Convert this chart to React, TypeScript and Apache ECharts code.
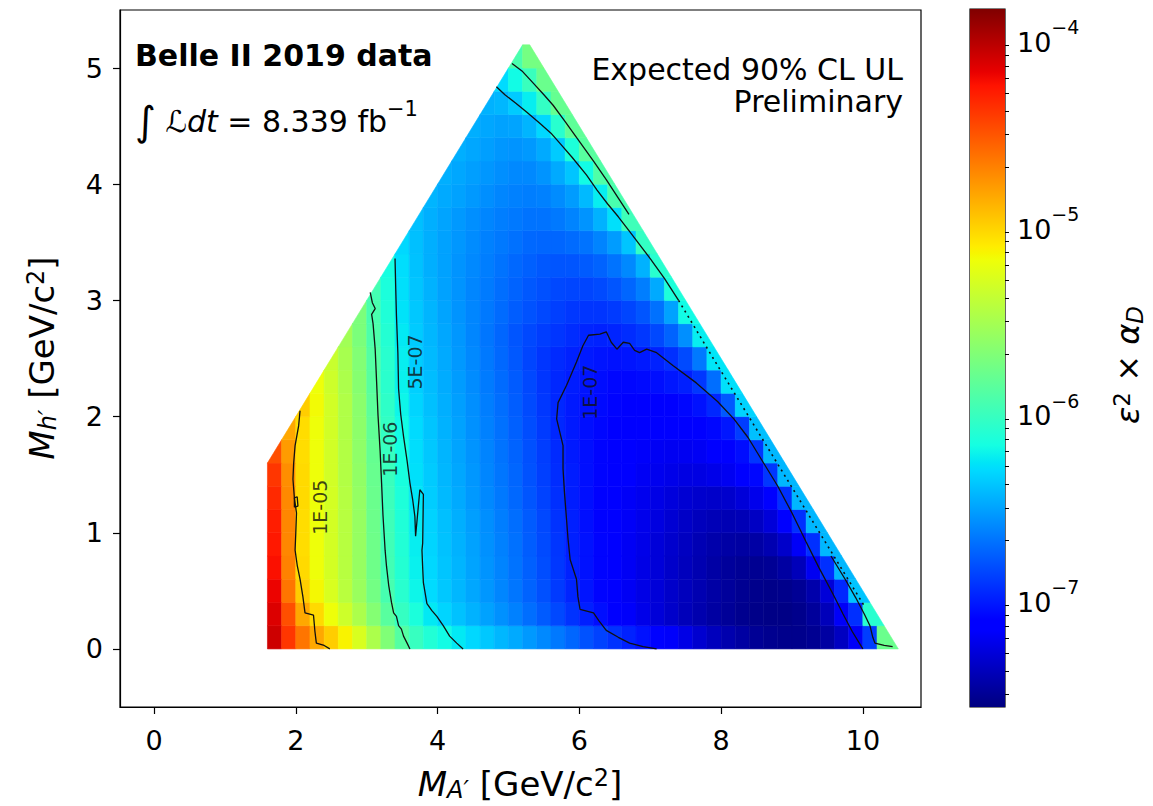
import React, { useEffect, useRef } from "react";
import * as echarts from "echarts";

const FONT = "DejaVu Sans";

// Axes
const X_TICKS = [0, 2, 4, 6, 8, 10];
const Y_TICKS = [0, 1, 2, 3, 4, 5];
const CB_TICKS = [-7, -6, -5, -4]; // log10 of epsilon^2 x alpha_D
const X_MIN = -0.48;
const X_MAX = 10.82;
const Y_MIN = -0.5;
const Y_MAX = 5.5;
const CB_MIN = -7.59;
const CB_MAX = -3.85;
const HALF_CELL = 0.1;
const CELL_STEP = 0.2;
// kinematic boundary of the scanned region: M_h' <= M_A', M_A' + M_h' <= EDGE_SUM
const EDGE_SUM = 10.5;

// Heat map: log10(expected UL) per row (row centre y, first cell centre x, values every 0.2 GeV)
const ROW_Y = [0.1, 0.3, 0.5, 0.7, 0.9, 1.1, 1.3, 1.5, 1.7, 1.9, 2.1, 2.3, 2.5, 2.7, 2.9, 3.1, 3.3, 3.5, 3.7, 3.9, 4.1, 4.3, 4.5, 4.7, 4.9, 5.1];
const ROW_X0 = [1.7, 1.7, 1.7, 1.7, 1.7, 1.7, 1.7, 1.7, 1.7, 1.9, 2.1, 2.3, 2.5, 2.7, 2.9, 3.1, 3.3, 3.5, 3.7, 3.9, 4.1, 4.3, 4.5, 4.7, 4.9, 5.1];
const LOG_UL_ROWS: number[][] = [
  [-4.1, -4.4, -4.65, -4.85, -5.0, -5.15, -5.3, -5.5, -5.7, -5.9, -6.03, -6.13, -6.2, -6.27, -6.33, -6.39, -6.45, -6.5, -6.56, -6.62, -6.68, -6.75, -6.82, -6.88, -6.94, -7.0, -7.06, -7.12, -7.19, -7.26, -7.33, -7.39, -7.44, -7.48, -7.52, -7.54, -7.55, -7.55, -7.53, -7.48, -7.38, -7.2, -6.9, -5.8],
  [-4.15, -4.5, -4.85, -5.05, -5.2, -5.35, -5.5, -5.68, -5.88, -6.04, -6.16, -6.27, -6.34, -6.41, -6.47, -6.53, -6.59, -6.65, -6.72, -6.79, -6.86, -6.94, -7.01, -7.07, -7.13, -7.19, -7.25, -7.3, -7.35, -7.4, -7.44, -7.48, -7.51, -7.54, -7.56, -7.57, -7.57, -7.55, -7.5, -7.4, -7.2, -6.95, -6.1],
  [-4.2, -4.65, -5.0, -5.17, -5.3, -5.44, -5.58, -5.76, -5.96, -6.1, -6.22, -6.32, -6.39, -6.45, -6.51, -6.57, -6.63, -6.69, -6.76, -6.83, -6.91, -6.99, -7.05, -7.11, -7.16, -7.21, -7.26, -7.3, -7.35, -7.39, -7.43, -7.47, -7.5, -7.53, -7.55, -7.56, -7.55, -7.52, -7.45, -7.3, -6.98, -6.4],
  [-4.25, -4.7, -5.05, -5.2, -5.32, -5.45, -5.6, -5.78, -5.98, -6.12, -6.24, -6.33, -6.4, -6.46, -6.52, -6.58, -6.64, -6.7, -6.77, -6.84, -6.92, -7.0, -7.06, -7.11, -7.16, -7.21, -7.26, -7.3, -7.35, -7.39, -7.43, -7.47, -7.5, -7.52, -7.53, -7.52, -7.48, -7.4, -7.22, -6.95, -6.45],
  [-4.28, -4.72, -5.06, -5.2, -5.32, -5.45, -5.6, -5.78, -5.99, -6.13, -6.25, -6.34, -6.41, -6.47, -6.53, -6.59, -6.65, -6.71, -6.78, -6.85, -6.93, -7.01, -7.06, -7.11, -7.16, -7.21, -7.25, -7.3, -7.34, -7.38, -7.42, -7.45, -7.47, -7.48, -7.47, -7.43, -7.35, -7.2, -6.95, -6.45],
  [-4.3, -4.72, -5.06, -5.2, -5.32, -5.45, -5.6, -5.79, -6.0, -6.14, -6.26, -6.35, -6.42, -6.48, -6.54, -6.6, -6.66, -6.72, -6.79, -6.86, -6.94, -7.01, -7.07, -7.12, -7.16, -7.2, -7.24, -7.28, -7.32, -7.36, -7.39, -7.41, -7.42, -7.41, -7.37, -7.3, -7.18, -6.95, -6.45],
  [-4.35, -4.73, -5.05, -5.2, -5.32, -5.46, -5.61, -5.8, -6.01, -6.15, -6.28, -6.37, -6.44, -6.5, -6.56, -6.62, -6.68, -6.74, -6.81, -6.88, -6.95, -7.02, -7.07, -7.12, -7.16, -7.2, -7.23, -7.26, -7.29, -7.32, -7.34, -7.35, -7.34, -7.3, -7.24, -7.14, -6.95, -6.45],
  [-4.4, -4.75, -5.05, -5.2, -5.33, -5.47, -5.62, -5.81, -6.02, -6.17, -6.3, -6.38, -6.45, -6.51, -6.57, -6.63, -6.69, -6.75, -6.82, -6.89, -6.96, -7.02, -7.07, -7.11, -7.15, -7.18, -7.21, -7.23, -7.25, -7.27, -7.27, -7.25, -7.22, -7.18, -7.1, -6.92, -6.45],
  [-4.5, -4.8, -5.06, -5.2, -5.33, -5.47, -5.63, -5.82, -6.03, -6.18, -6.31, -6.39, -6.46, -6.52, -6.58, -6.64, -6.7, -6.76, -6.83, -6.9, -6.97, -7.03, -7.07, -7.11, -7.14, -7.17, -7.19, -7.21, -7.22, -7.22, -7.21, -7.18, -7.14, -7.08, -6.93, -6.45],
  [-4.85, -5.06, -5.2, -5.33, -5.48, -5.64, -5.84, -6.05, -6.2, -6.32, -6.4, -6.47, -6.53, -6.59, -6.65, -6.71, -6.77, -6.84, -6.91, -6.98, -7.03, -7.07, -7.1, -7.13, -7.15, -7.17, -7.18, -7.18, -7.17, -7.14, -7.1, -7.04, -6.9, -6.42],
  [-5.0, -5.18, -5.33, -5.48, -5.65, -5.86, -6.07, -6.22, -6.34, -6.42, -6.48, -6.54, -6.6, -6.66, -6.72, -6.78, -6.85, -6.92, -6.98, -7.03, -7.06, -7.09, -7.11, -7.13, -7.14, -7.14, -7.13, -7.1, -7.06, -6.98, -6.8, -6.35],
  [-5.2, -5.35, -5.5, -5.67, -5.88, -6.09, -6.24, -6.36, -6.43, -6.49, -6.55, -6.61, -6.67, -6.73, -6.79, -6.86, -6.93, -6.98, -7.02, -7.05, -7.08, -7.1, -7.1, -7.09, -7.07, -7.04, -7.01, -6.92, -6.72, -6.3],
  [-5.37, -5.52, -5.69, -5.9, -6.1, -6.25, -6.37, -6.44, -6.5, -6.56, -6.62, -6.68, -6.74, -6.8, -6.87, -6.93, -6.97, -7.0, -7.03, -7.05, -7.06, -7.05, -7.03, -7.0, -6.95, -6.85, -6.68, -6.28],
  [-5.55, -5.72, -5.93, -6.12, -6.27, -6.38, -6.45, -6.51, -6.57, -6.63, -6.69, -6.75, -6.81, -6.86, -6.9, -6.93, -6.96, -6.99, -7.0, -6.99, -6.96, -6.92, -6.86, -6.76, -6.6, -6.25],
  [-5.72, -5.95, -6.14, -6.29, -6.39, -6.46, -6.52, -6.58, -6.63, -6.68, -6.73, -6.78, -6.82, -6.86, -6.89, -6.92, -6.93, -6.93, -6.91, -6.87, -6.81, -6.71, -6.53, -6.2],
  [-5.97, -6.16, -6.3, -6.4, -6.47, -6.53, -6.58, -6.63, -6.67, -6.72, -6.76, -6.8, -6.83, -6.86, -6.87, -6.87, -6.85, -6.81, -6.75, -6.66, -6.5, -6.15],
  [-6.18, -6.31, -6.41, -6.48, -6.53, -6.58, -6.62, -6.66, -6.7, -6.74, -6.77, -6.8, -6.81, -6.81, -6.79, -6.76, -6.7, -6.62, -6.47, -6.1],
  [-6.33, -6.42, -6.48, -6.53, -6.57, -6.61, -6.65, -6.68, -6.71, -6.74, -6.75, -6.75, -6.73, -6.7, -6.64, -6.55, -6.4, -6.05],
  [-6.42, -6.48, -6.52, -6.56, -6.6, -6.63, -6.66, -6.68, -6.7, -6.7, -6.68, -6.64, -6.58, -6.47, -6.3, -6.0],
  [-6.46, -6.5, -6.53, -6.56, -6.6, -6.63, -6.65, -6.66, -6.65, -6.61, -6.55, -6.44, -6.25, -5.95],
  [-6.48, -6.51, -6.54, -6.57, -6.6, -6.62, -6.62, -6.58, -6.5, -6.4, -6.2, -5.92],
  [-6.48, -6.51, -6.54, -6.57, -6.58, -6.56, -6.5, -6.38, -6.15, -5.88],
  [-6.48, -6.51, -6.53, -6.52, -6.46, -6.33, -6.1, -5.85],
  [-6.47, -6.45, -6.38, -6.25, -6.05, -5.82],
  [-6.32, -6.2, -6.02, -5.8],
  [-5.95, -5.75],
];

// Contour lines, [M_A', M_h']
const CONTOUR_1E5 = [[2.06, 2.05], [2.04, 1.92], [1.99, 1.75], [1.97, 1.6], [1.96, 1.46], [1.98, 1.3], [2.01, 1.17], [2.0, 1.0], [1.99, 0.85], [2.02, 0.72], [2.06, 0.6], [2.1, 0.45], [2.13, 0.31], [2.25, 0.29], [2.27, 0.15], [2.29, 0.05], [2.4, 0.03], [2.48, 0.0]];
const CONTOUR_1E5_BLOB = [[1.98, 1.22], [1.98, 1.3], [2.02, 1.31], [2.03, 1.23], [1.98, 1.22]];
const CONTOUR_1E6 = [[3.05, 3.07], [3.08, 2.98], [3.12, 2.93], [3.07, 2.88], [3.09, 2.8], [3.12, 2.58], [3.14, 2.3], [3.16, 2.01], [3.19, 1.7], [3.21, 1.43], [3.23, 1.15], [3.26, 0.85], [3.28, 0.71], [3.31, 0.55], [3.35, 0.4], [3.38, 0.31], [3.42, 0.28], [3.45, 0.2], [3.49, 0.17], [3.52, 0.11], [3.57, 0.05], [3.61, 0.0]];
const CONTOUR_5E7 = [[3.4, 3.36], [3.41, 3.1], [3.42, 2.87], [3.44, 2.55], [3.45, 2.24], [3.48, 2.02], [3.52, 1.83], [3.57, 1.62], [3.61, 1.43], [3.65, 1.28], [3.68, 1.14], [3.69, 0.97], [3.75, 1.37], [3.8, 1.33], [3.79, 0.91], [3.78, 0.85], [3.79, 0.7], [3.8, 0.57], [3.85, 0.39], [3.92, 0.33], [3.99, 0.28], [4.08, 0.2], [4.17, 0.11], [4.27, 0.05], [4.36, 0.0]];
const CONTOUR_1E7 = [[7.09, 0.0], [6.9, 0.02], [6.71, 0.05], [6.55, 0.1], [6.38, 0.16], [6.28, 0.24], [6.2, 0.31], [6.01, 0.34], [5.98, 0.45], [5.96, 0.6], [5.87, 0.77], [5.84, 0.95], [5.82, 1.11], [5.79, 1.35], [5.77, 1.55], [5.77, 1.75], [5.68, 1.98], [5.7, 2.12], [5.82, 2.27], [5.96, 2.47], [6.05, 2.61], [6.13, 2.7], [6.29, 2.71], [6.38, 2.73], [6.45, 2.64], [6.53, 2.58], [6.62, 2.64], [6.71, 2.63], [6.78, 2.57], [6.85, 2.55], [6.95, 2.58], [7.09, 2.55], [7.32, 2.44], [7.65, 2.29], [7.95, 2.13], [8.18, 1.98], [8.38, 1.82], [8.58, 1.62], [8.8, 1.4], [9.0, 1.17], [9.2, 0.92], [9.38, 0.7], [9.58, 0.47], [9.72, 0.3], [9.85, 0.15], [9.95, 0.05], [10.0, 0.0]];
const CONTOUR_1E6_TOP = [[5.05, 5.04], [5.2, 4.97], [5.35, 4.87], [5.5, 4.77], [5.63, 4.68], [5.8, 4.54], [6.0, 4.37], [6.2, 4.2], [6.38, 4.04], [6.55, 3.88], [6.7, 3.74]];
const CONTOUR_5E7_TOP = [[4.83, 4.84], [4.95, 4.77], [5.1, 4.7], [5.26, 4.62], [5.45, 4.52], [5.6, 4.44], [5.73, 4.35], [5.9, 4.23], [6.1, 4.08], [6.25, 3.95], [6.4, 3.83], [6.55, 3.72], [6.7, 3.6], [6.85, 3.48], [7.0, 3.36], [7.2, 3.19], [7.4, 3.0]];
const CONTOUR_EDGE = [[7.4, 3.0], [7.9, 2.49], [8.4, 1.99], [8.9, 1.49], [9.4, 0.99], [9.8, 0.59], [10.02, 0.37]];
const CONTOUR_CORNER = [[9.55, 0.8], [9.75, 0.6], [9.9, 0.44], [10.02, 0.3], [10.1, 0.2], [10.14, 0.1], [10.17, 0.05], [10.3, 0.03], [10.42, 0.02]];

const CONTOUR_LABEL_X = [2.34, 3.33, 3.68, 6.15];
const CONTOUR_LABEL_Y = [1.22, 1.72, 2.47, 2.21];
const CONTOUR_LABEL_TEXT = ["1E-05", "1E-06", "5E-07", "1E-07"];

// matplotlib "jet" colormap
const JET_R = [[0, 0], [0.35, 0], [0.66, 1], [0.89, 1], [1, 0.5]];
const JET_G = [[0, 0], [0.125, 0], [0.375, 1], [0.64, 1], [0.91, 0], [1, 0]];
const JET_B = [[0, 0.5], [0.11, 1], [0.34, 1], [0.65, 0], [1, 0]];
const JET_BREAKS = [0, 0.11, 0.125, 0.34, 0.35, 0.375, 0.64, 0.65, 0.66, 0.89, 0.91, 1];

function seg(pts: number[][], t: number) {
  for (let i = 1; i < pts.length; i++) {
    if (t <= pts[i][0]) {
      const [t0, v0] = pts[i - 1];
      const [t1, v1] = pts[i];
      return v0 + ((t - t0) / (t1 - t0)) * (v1 - v0);
    }
  }
  return pts[pts.length - 1][1];
}
function jet(t: number) {
  const tt = Math.max(0, Math.min(1, t));
  const r = Math.round(seg(JET_R, tt) * 255);
  const g = Math.round(seg(JET_G, tt) * 255);
  const b = Math.round(seg(JET_B, tt) * 255);
  return `rgb(${r},${g},${b})`;
}
function colorOf(L: number) {
  return jet((L - CB_MIN) / (CB_MAX - CB_MIN));
}

// keep the part of a polygon where f(p) >= 0
function clipPoly(pts: number[][], f: (p: number[]) => number) {
  const out: number[][] = [];
  for (let i = 0; i < pts.length; i++) {
    const a = pts[i];
    const b = pts[(i + 1) % pts.length];
    const fa = f(a);
    const fb = f(b);
    if (fa >= 0) out.push(a);
    if (fa >= 0 !== fb >= 0) {
      const t = fa / (fa - fb);
      out.push([a[0] + t * (b[0] - a[0]), a[1] + t * (b[1] - a[1])]);
    }
  }
  return out;
}

const CB_MINOR: number[] = [];
[-8, -7, -6, -5, -4].forEach((n) => {
  [2, 3, 4, 5, 6, 7, 8, 9].forEach((k) => {
    const v = n + Math.log10(k);
    if (v > CB_MIN && v < CB_MAX) CB_MINOR.push(v);
  });
});

export default function App() {
  const ref = useRef<HTMLDivElement>(null);
  useEffect(() => {
    if (!ref.current) return;
    const chart = echarts.init(ref.current, undefined, { renderer: "svg" });

    const cells: number[][] = [];
    ROW_Y.forEach((y, r) => {
      const row = LOG_UL_ROWS[r];
      row.forEach((v, i) => {
        cells.push([+(ROW_X0[r] + i * CELL_STEP).toFixed(2), y, v, i === row.length - 1 ? 1 : 0]);
      });
    });

    const lineSeries = (data: number[][], dashed = false) => ({
      type: "line",
      xAxisIndex: 0,
      yAxisIndex: 0,
      data,
      showSymbol: false,
      symbol: "none",
      silent: true,
      z: 5,
      lineStyle: { color: "#111", width: dashed ? 1.6 : 1.3, type: dashed ? [2, 4] : "solid" },
    });

    const tickLabel = { fontFamily: FONT, fontSize: 27, color: "#000" };
    const titleRich = {
      i: { fontFamily: FONT, fontSize: 34, fontStyle: "italic", fill: "#000", lineHeight: 36, verticalAlign: "middle" },
      n: { fontFamily: FONT, fontSize: 34, fill: "#000", lineHeight: 36, verticalAlign: "middle" },
      sub: { fontFamily: FONT, fontSize: 24, fontStyle: "italic", fill: "#000", lineHeight: 24, verticalAlign: "bottom" },
      sup: { fontFamily: FONT, fontSize: 24, fill: "#000", lineHeight: 24, verticalAlign: "top" },
    };

    const option: any = {
      animation: false,
      backgroundColor: "#fff",
      grid: [
        { left: 120, top: 10, width: 801, height: 697, show: true, borderColor: "#000", borderWidth: 1.2, backgroundColor: "transparent" },
        { left: 970, top: 9, width: 35, height: 698, show: true, borderColor: "#000", borderWidth: 1.2, backgroundColor: "transparent" },
      ],
      xAxis: [
        {
          gridIndex: 0, type: "value", min: X_MIN, max: X_MAX,
          axisLine: { show: true, onZero: false, lineStyle: { color: "#000", width: 1.2 } },
          axisTick: { show: true, customValues: X_TICKS, length: 7, lineStyle: { color: "#000", width: 1.2 } },
          axisLabel: { ...tickLabel, customValues: X_TICKS, margin: 20 },
          splitLine: { show: false },
        },
        { gridIndex: 1, type: "value", min: 0, max: 1, show: false },
      ],
      yAxis: [
        {
          gridIndex: 0, type: "value", min: Y_MIN, max: Y_MAX,
          axisLine: { show: true, onZero: false, lineStyle: { color: "#000", width: 1.2 } },
          axisTick: { show: true, customValues: Y_TICKS, length: 7, lineStyle: { color: "#000", width: 1.2 } },
          axisLabel: { ...tickLabel, customValues: Y_TICKS, margin: 17 },
          splitLine: { show: false },
        },
        {
          gridIndex: 1, type: "value", min: CB_MIN, max: CB_MAX, position: "right",
          axisLine: { show: false },
          axisTick: { show: true, customValues: CB_TICKS, length: 7, lineStyle: { color: "#000", width: 1.2 } },
          axisLabel: {
            customValues: CB_TICKS,
            margin: 12,
            formatter: (v: number) => `{b|10}{s|\u2212${Math.abs(Math.round(v))}}`,
            rich: {
              b: { fontFamily: FONT, fontSize: 27, color: "#000", lineHeight: 38, verticalAlign: "bottom" },
              s: { fontFamily: FONT, fontSize: 19, color: "#000", lineHeight: 20, verticalAlign: "top" },
            },
          },
          splitLine: { show: false },
        },
        {
          gridIndex: 1, type: "value", min: CB_MIN, max: CB_MAX, position: "right",
          axisLine: { show: false },
          axisTick: { show: true, customValues: CB_MINOR, length: 4, lineStyle: { color: "#000", width: 1 } },
          axisLabel: { show: false },
          splitLine: { show: false },
        },
      ],
      series: [
        {
          type: "custom",
          xAxisIndex: 0,
          yAxisIndex: 0,
          data: cells,
          dimensions: ["x", "y", "v", "last"],
          encode: { x: 0, y: 1 },
          silent: true,
          clip: true,
          renderItem: (params: any, api: any) => {
            const x = api.value(0);
            const y = api.value(1);
            const v = api.value(2);
            const last = api.value(3);
            const x0 = x - HALF_CELL;
            const x1 = x + HALF_CELL + (last ? CELL_STEP : 0);
            const y0 = y - HALF_CELL;
            const y1 = y + HALF_CELL;
            let poly = [[x0, y0], [x1, y0], [x1, y1], [x0, y1]];
            poly = clipPoly(poly, (p) => p[0] - p[1]);
            poly = clipPoly(poly, (p) => EDGE_SUM - p[0] - p[1]);
            if (poly.length < 3) return null;
            const c = colorOf(v);
            return {
              type: "polygon",
              shape: { points: poly.map((p) => api.coord(p)) },
              style: { fill: c, stroke: c, lineWidth: 0.6 },
            };
          },
        },
        lineSeries(CONTOUR_1E5),
        lineSeries(CONTOUR_1E5_BLOB),
        lineSeries(CONTOUR_1E6),
        lineSeries(CONTOUR_5E7),
        lineSeries(CONTOUR_1E7),
        lineSeries(CONTOUR_1E6_TOP),
        lineSeries(CONTOUR_5E7_TOP),
        lineSeries(CONTOUR_EDGE, true),
        lineSeries(CONTOUR_CORNER),
        {
          type: "scatter",
          xAxisIndex: 0,
          yAxisIndex: 0,
          symbolSize: 1,
          silent: true,
          z: 6,
          itemStyle: { color: "rgba(0,0,0,0)" },
          data: CONTOUR_LABEL_TEXT.map((t, i) => ({ name: t, value: [CONTOUR_LABEL_X[i], CONTOUR_LABEL_Y[i]] })),
          label: { show: true, position: "inside", rotate: 90, formatter: "{b}", fontFamily: FONT, fontSize: 19, color: "#111" },
        },
        {
          type: "custom",
          xAxisIndex: 1,
          yAxisIndex: 1,
          data: [[0]],
          silent: true,
          renderItem: (params: any, api: any) => {
            const p0 = api.coord([0, CB_MAX]);
            const p1 = api.coord([1, CB_MIN]);
            return {
              type: "rect",
              shape: { x: p0[0], y: p0[1], width: p1[0] - p0[0], height: p1[1] - p0[1] },
              style: {
                fill: new echarts.graphic.LinearGradient(0, 1, 0, 0, JET_BREAKS.map((t) => ({ offset: t, color: jet(t) }))),
              },
            };
          },
        },
      ],
      graphic: [
        {
          type: "text", x: 135, y: 55, silent: true, z: 10,
          style: { text: "Belle II 2019 data", fill: "#000", fontFamily: FONT, fontSize: 30, fontWeight: "bold", align: "left", verticalAlign: "middle" },
        },
        {
          type: "text", x: 135, y: 121, silent: true, z: 10,
          style: {
            text: "{int|\u222B}{n| }{i|\u2112dt}{n| = 8.339 fb}{sup|\u22121}",
            fill: "#000", fontFamily: FONT, fontSize: 30, align: "left", verticalAlign: "middle",
            rich: {
              int: { fontFamily: FONT, fontSize: 40, fill: "#000", lineHeight: 46, verticalAlign: "middle" },
              n: { fontFamily: FONT, fontSize: 30, fill: "#000", lineHeight: 40, verticalAlign: "middle" },
              i: { fontFamily: FONT, fontSize: 30, fontStyle: "italic", fill: "#000", lineHeight: 40, verticalAlign: "middle" },
              sup: { fontFamily: FONT, fontSize: 21, fill: "#000", lineHeight: 30, verticalAlign: "top" },
            },
          },
        },
        {
          type: "text", x: 903, y: 69, silent: true, z: 10,
          style: { text: "Expected 90% CL UL", fill: "#000", fontFamily: FONT, fontSize: 30, align: "right", verticalAlign: "middle" },
        },
        {
          type: "text", x: 903, y: 101, silent: true, z: 10,
          style: { text: "Preliminary", fill: "#000", fontFamily: FONT, fontSize: 30, align: "right", verticalAlign: "middle" },
        },
        {
          type: "text", x: 520, y: 784, silent: true, z: 10,
          style: {
            text: "{i|M}{sub|A\u2032}{n| [GeV/c}{sup|2}{n|]}",
            fill: "#000", fontFamily: FONT, fontSize: 34, align: "center", verticalAlign: "middle",
            rich: titleRich,
          },
        },
        {
          type: "text", x: 42, y: 358, rotation: Math.PI / 2, silent: true, z: 10,
          style: {
            text: "{i|M}{sub|h\u2032}{n| [GeV/c}{sup|2}{n|]}",
            fill: "#000", fontFamily: FONT, fontSize: 34, align: "center", verticalAlign: "middle",
            rich: titleRich,
          },
        },
        {
          type: "text", x: 1128, y: 365, rotation: Math.PI / 2, silent: true, z: 10,
          style: {
            text: "{i|\u03B5}{sup|2}{n| \u00D7 }{i|\u03B1}{sub|D}",
            fill: "#000", fontFamily: FONT, fontSize: 32, align: "center", verticalAlign: "middle",
            rich: {
              i: { fontFamily: FONT, fontSize: 32, fontStyle: "italic", fill: "#000", lineHeight: 36, verticalAlign: "middle" },
              n: { fontFamily: FONT, fontSize: 32, fill: "#000", lineHeight: 36, verticalAlign: "middle" },
              sub: { fontFamily: FONT, fontSize: 23, fontStyle: "italic", fill: "#000", lineHeight: 24, verticalAlign: "bottom" },
              sup: { fontFamily: FONT, fontSize: 23, fill: "#000", lineHeight: 24, verticalAlign: "top" },
            },
          },
        },
      ],
    };

    chart.setOption(option);
    return () => chart.dispose();
  }, []);

  return (
    <div
      ref={ref}
      style={{ position: "fixed", left: 0, top: 0, width: 1153, height: 806, background: "#fff" }}
    />
  );
}
